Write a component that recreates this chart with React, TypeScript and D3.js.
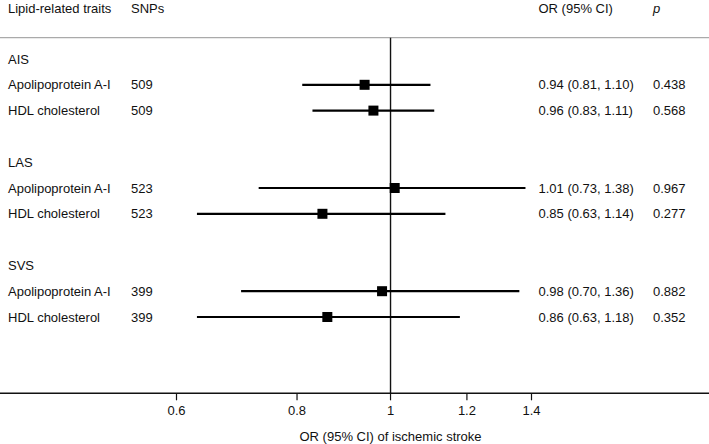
import React from "react";
import * as d3 from "d3";

const groups = ["AIS", "LAS", "SVS"];
const traits = ["Apolipoprotein A-I", "HDL cholesterol"];
const snps = [509, 509, 523, 523, 399, 399];
const orValues = [0.94, 0.96, 1.01, 0.85, 0.98, 0.86];
const lowerCI = [0.81, 0.83, 0.73, 0.63, 0.70, 0.63];
const upperCI = [1.10, 1.11, 1.38, 1.14, 1.36, 1.18];
const pValues = ["0.438", "0.568", "0.967", "0.277", "0.882", "0.352"];
const xTicks = [0.6, 0.8, 1, 1.2, 1.4];

const W = 709;
const H = 444;
const FONT = "'Liberation Sans', Arial, Helvetica, sans-serif";

export default function App() {
  const x = d3.scaleLog().domain([0.6, 1.4]).range([176.5, 531.5]);
  const y = d3.scaleLinear().domain([0, 10]).range([59, 317]);
  const headerY = 8.5;
  const sepY = 37.7;
  const axisY = 393.3;

  const rows: { label: string; group: boolean; idx: number; i?: number }[] = [];
  groups.forEach((g, gi) => {
    rows.push({ label: g, group: true, idx: gi * 4 });
    traits.forEach((t, ti) => {
      rows.push({ label: t, group: false, idx: gi * 4 + 1 + ti, i: gi * 2 + ti });
    });
  });

  const fmt = d3.format(".2f");
  const tickFmt = (v: number) => (v === 1 ? "1" : String(v));

  return (
    <svg width={W} height={H} style={{ display: "block", position: "absolute", left: 0, top: 0 }} fontFamily={FONT} fontSize={13}>
      <rect width={W} height={H} fill="#fff" />
      {/* header */}
      <g fill="#111">
        <text x={8} y={headerY} dy="0.35em">Lipid-related traits</text>
        <text x={131} y={headerY} dy="0.35em">SNPs</text>
        <text x={538.5} y={headerY} dy="0.35em">OR (95% CI)</text>
        <text x={653} y={headerY} dy="0.35em" fontStyle="italic">p</text>
      </g>
      <line x1={0} x2={W} y1={sepY} y2={sepY} stroke="#aaa" strokeWidth={1.2} />
      {/* reference line */}
      <line x1={x(1)} x2={x(1)} y1={sepY} y2={axisY} stroke="#111" strokeWidth={1.4} />
      {/* rows */}
      {rows.map((r) => {
        const cy = y(r.idx);
        if (r.group) {
          return (
            <text key={r.label} x={8} y={cy} dy="0.35em" fill="#111">{r.label}</text>
          );
        }
        const i = r.i as number;
        return (
          <g key={r.label + i}>
            <text x={8} y={cy} dy="0.35em" fill="#111">{r.label}</text>
            <text x={131} y={cy} dy="0.35em" fill="#111">{snps[i]}</text>
            <line x1={x(lowerCI[i])} x2={x(upperCI[i])} y1={cy} y2={cy} stroke="#000" strokeWidth={2.2} />
            <rect x={x(orValues[i]) - 5} y={cy - 5} width={10} height={10} fill="#000" />
            <text x={538.5} y={cy} dy="0.35em" fill="#111">
              {`${fmt(orValues[i])} (${fmt(lowerCI[i])}, ${fmt(upperCI[i])})`}
            </text>
            <text x={653} y={cy} dy="0.35em" fill="#111">{pValues[i]}</text>
          </g>
        );
      })}
      {/* axis */}
      <line x1={0} x2={W} y1={axisY} y2={axisY} stroke="#111" strokeWidth={1.4} />
      {xTicks.map((t) => (
        <g key={t}>
          <line x1={x(t)} x2={x(t)} y1={axisY} y2={axisY + 7} stroke="#111" strokeWidth={1.2} />
          <text x={x(t)} y={410.7} dy="0.35em" textAnchor="middle" fill="#111">{tickFmt(t)}</text>
        </g>
      ))}
      <text x={x(1)} y={436.7} dy="0.35em" textAnchor="middle" fill="#111">OR (95% CI) of ischemic stroke</text>
    </svg>
  );
}
